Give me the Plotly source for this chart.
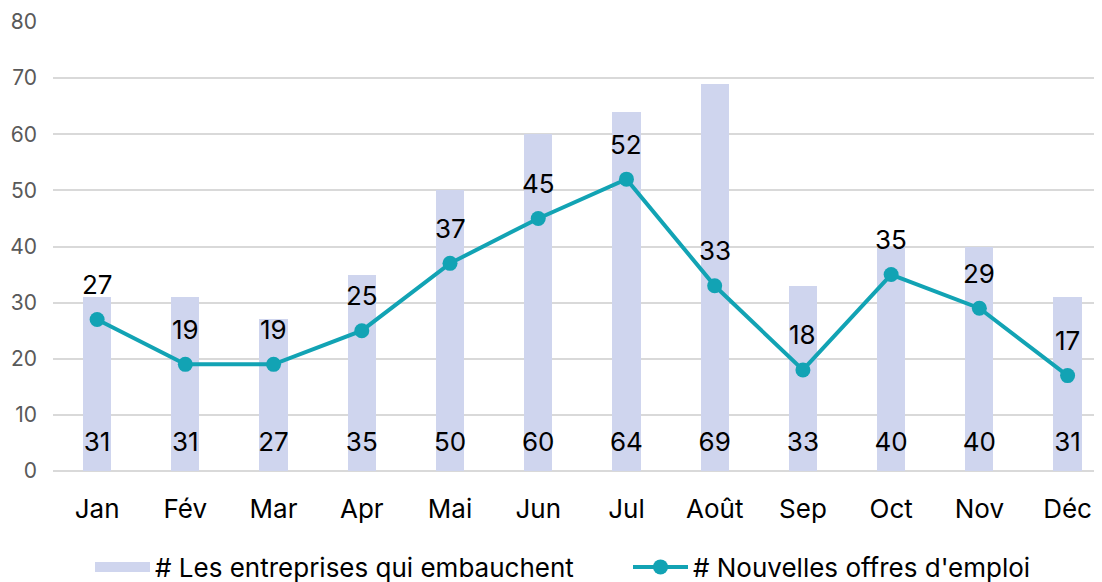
import plotly.graph_objects as go

months = ["Jan", "Fév", "Mar", "Apr", "Mai", "Jun", "Jul", "Août", "Sep", "Oct", "Nov", "Déc"]
entreprises = [31, 31, 27, 35, 50, 60, 64, 69, 33, 40, 40, 31]
offres = [27, 19, 19, 25, 37, 45, 52, 33, 18, 35, 29, 17]
y_ticks = [0, 10, 20, 30, 40, 50, 60, 70, 80]

BAR_NAME = "# Les entreprises qui embauchent"
LINE_NAME = "# Nouvelles offres d'emploi"
BAR_COLOR = "#CFD5EE"
LINE_COLOR = "#12A3B4"
FONT = "Inter, Lato, sans-serif"
BAR_LABEL_Y = 4.8
FS = 26

x = list(range(len(months)))

fig = go.Figure()
fig.add_trace(go.Bar(
    x=x, y=entreprises, name=BAR_NAME, showlegend=False,
    marker=dict(color=BAR_COLOR, line=dict(width=0)),
    width=0.32,
))
# legend entry for bars (wide swatch)
fig.add_trace(go.Scatter(
    x=[None], y=[None], mode="lines", name=BAR_NAME,
    line=dict(color=BAR_COLOR, width=17), legend="legend", hoverinfo="skip",
))
fig.add_trace(go.Scatter(
    x=x, y=[BAR_LABEL_Y] * len(x), mode="text",
    text=[str(v) for v in entreprises], textposition="middle center",
    textfont=dict(size=FS, color="#000000", family=FONT),
    showlegend=False, hoverinfo="skip",
))
fig.add_trace(go.Scatter(
    x=x, y=offres, name=LINE_NAME,
    mode="lines+markers",
    line=dict(color=LINE_COLOR, width=4),
    marker=dict(color=LINE_COLOR, size=15),
    legend="legend2",
))
for xi, v in zip(x, offres):
    fig.add_annotation(x=xi, y=v, text=str(v), showarrow=False, yshift=35,
                       font=dict(size=FS, color="#000000", family=FONT))

# page body has an 8px offset, so the figure is sized to fit inside the window
W, H = 1094, 574
L, T, PH = 45, 14, 449
fig.update_layout(
    width=W, height=H,
    margin=dict(l=L, r=0, t=T, b=H - T - PH, autoexpand=False),
    paper_bgcolor="white", plot_bgcolor="white",
    font=dict(family=FONT, size=FS, color="#000000"),
    bargap=0,
    showlegend=True,
    legend=dict(orientation="h", x=(82 - L) / (W - L), xanchor="left",
                y=-96 / PH, yanchor="middle",
                font=dict(size=FS, color="#000000", family=FONT), itemwidth=55,
                bgcolor="rgba(0,0,0,0)"),
    legend2=dict(orientation="h", x=(620 - L) / (W - L), xanchor="left",
                 y=-96 / PH, yanchor="middle",
                 font=dict(size=FS, color="#000000", family=FONT), itemwidth=55,
                 bgcolor="rgba(0,0,0,0)"),
    xaxis=dict(
        tickmode="array", tickvals=x, ticktext=months,
        range=[-0.5, 11.39], showgrid=False, zeroline=False, showline=False,
        ticks="", ticklabelstandoff=20, automargin=False,
        tickfont=dict(size=FS, color="#000000"),
    ),
    yaxis=dict(
        range=[0, 80], tickvals=y_ticks, showgrid=True, gridcolor="#D9D9D9", gridwidth=2,
        zeroline=True, zerolinecolor="#D9D9D9", zerolinewidth=2,
        showline=False, ticks="", ticklabelstandoff=15, automargin=False,
        tickfont=dict(size=21, color="#595959"),
    ),
)

fig.write_html("out.html")
